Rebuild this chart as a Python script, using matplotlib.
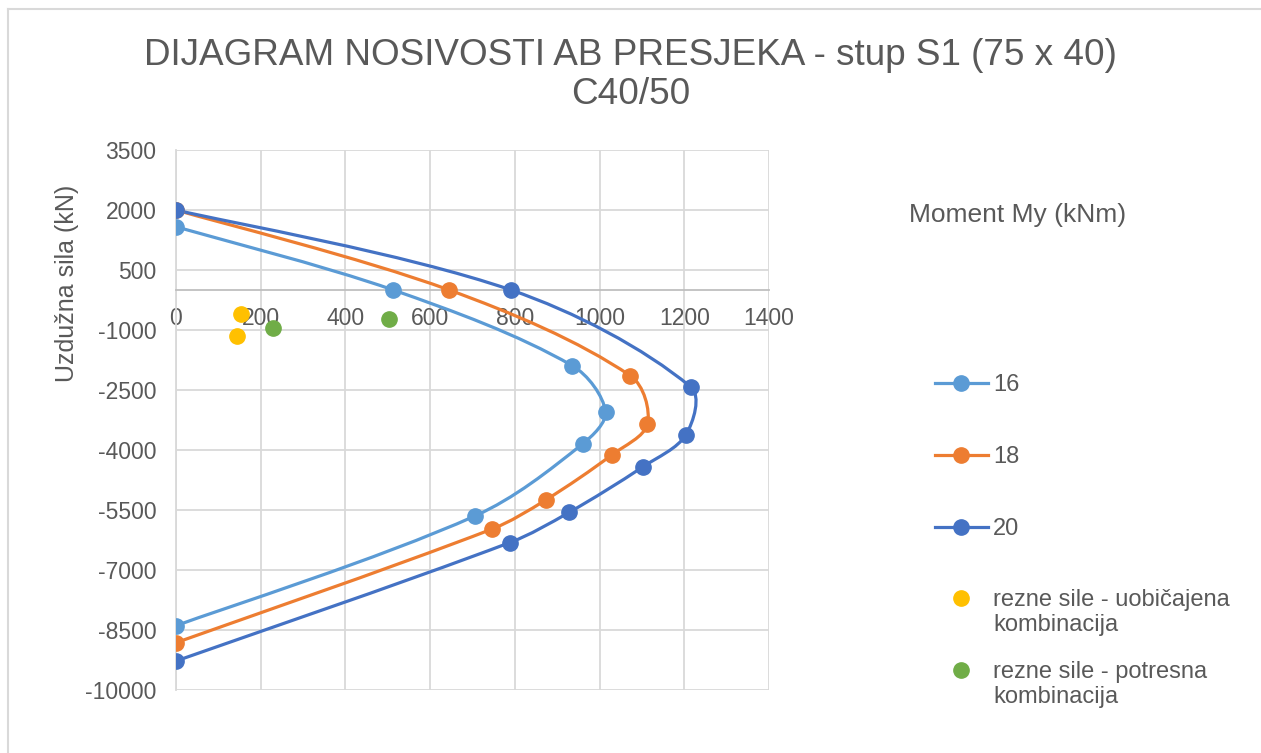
import numpy as np
import matplotlib
matplotlib.use("Agg")
import matplotlib.pyplot as plt
from matplotlib.path import Path
from matplotlib.patches import PathPatch
from matplotlib.lines import Line2D

plt.rcParams['font.family'] = ['Liberation Sans', 'DejaVu Sans']
plt.rcParams['axes.unicode_minus'] = False

# interakcijski dijagrami (M, N) za tri armature
m_16 = [0, 513, 935, 1014, 960, 706, 0]
n_16 = [1580, 0, -1888, -3039, -3847, -5648, -8392]

m_18 = [0, 645, 1073, 1113, 1029, 873, 745, 0]
n_18 = [2000, 0, -2146, -3354, -4122, -5248, -5981, -8817]

m_20 = [0, 791, 1215, 1204, 1102, 928, 788, 0]
n_20 = [2000, 0, -2421, -3614, -4422, -5560, -6315, -9275]

# rezne sile
m_uob = [153, 145]
n_uob = [-603, -1146]
m_pot = [230, 503]
n_pot = [-938, -728]

serije = ['16', '18', '20']
boje = ['#5B9BD5', '#ED7D31', '#4472C4']

TXT = '#595959'
GRID = '#D9D9D9'

W, H = 1261, 753
X0, X1, Y0, Y1 = 176, 769, 150, 690   # rub podrucja crtanja u pikselima


def glatka_krivulja(x, y, sx, sy):
    # glatka linija kroz tocke (Bezier), tangente tezinski po duljini segmenta
    p = np.column_stack([x, y]).astype(float)
    q = p * [sx, sy]                      # za duljine u pikselima
    n = len(p)
    d = np.hypot(*np.diff(q, axis=0).T)
    tang = np.zeros_like(p)
    for i in range(n):
        a = p[max(i - 1, 0)]
        b = p[min(i + 1, n - 1)]
        tang[i] = (b - a) / 2.0
    verts = [p[0]]
    codes = [Path.MOVETO]
    for i in range(n - 1):
        lo = d[i - 1] if i > 0 else d[i]
        hi = d[i + 1] if i + 1 < n - 1 else d[i]
        k1 = 2 * d[i] / (lo + d[i]) if i > 0 else 1.0
        k2 = 2 * d[i] / (d[i] + hi) if i + 1 < n - 1 else 1.0
        c1 = p[i] + tang[i] * k1 / 3.0
        c2 = p[i + 1] - tang[i + 1] * k2 / 3.0
        verts += [c1, c2, p[i + 1]]
        codes += [Path.CURVE4] * 3
    return Path(verts, codes)


fig = plt.figure(figsize=(W / 100, H / 100), dpi=100)
ax = fig.add_axes([X0 / W, 1 - Y1 / H, (X1 - X0) / W, (Y1 - Y0) / H])

ax.set_xlim(0, 1400)
ax.set_ylim(-10000, 3500)
sx = (X1 - X0) / 1400.0
sy = (Y1 - Y0) / 13500.0

for mx, ny, boja in zip([m_16, m_18, m_20], [n_16, n_18, n_20], boje):
    ax.add_patch(PathPatch(glatka_krivulja(mx, ny, sx, sy), fill=False,
                           edgecolor=boja, lw=2.3, capstyle='round', zorder=3))
    ax.plot(mx, ny, 'o', color=boja, ms=11, zorder=4)

ax.plot(m_uob, n_uob, 'o', color='#FFC000', ms=11, zorder=4)
ax.plot(m_pot, n_pot, 'o', color='#70AD47', ms=11, zorder=4)

ax.set_xticks(np.arange(0, 1401, 200))
ax.set_yticks(np.arange(-10000, 3501, 1500))
ax.grid(True, color=GRID, lw=1.3)
ax.set_axisbelow(True)

for s in ['top', 'right']:
    ax.spines[s].set_visible(False)
ax.spines['left'].set_color(GRID)
ax.spines['left'].set_linewidth(1.3)
ax.spines['bottom'].set_position(('data', 0))
ax.spines['bottom'].set_color('#BFBFBF')
ax.spines['bottom'].set_linewidth(1.3)
ax.tick_params(axis='both', length=0, labelsize=16.5, labelcolor=TXT)
ax.tick_params(axis='x', pad=12)
ax.tick_params(axis='y', pad=14)

ax.set_ylabel('Uzdužna sila (kN)', fontsize=18, color=TXT, va='center')
ax.yaxis.set_label_coords((67 - X0) / (X1 - X0), (Y1 - 283) / (Y1 - Y0))

fig.text(0.5, 1 - 75 / H, 'DIJAGRAM NOSIVOSTI AB PRESJEKA - stup S1 (75 x 40)\nC40/50',
         ha='center', va='center', fontsize=26.6, color=TXT, linespacing=1.12)
fig.text(1018 / W, 1 - 215 / H, 'Moment My (kNm)', ha='center', va='center',
         fontsize=19, color=TXT)

# legenda
stavke = [('16', boje[0], True, 383),
          ('18', boje[1], True, 455),
          ('20', boje[2], True, 527),
          ('rezne sile - uobičajena\nkombinacija', '#FFC000', False, 598),
          ('rezne sile - potresna\nkombinacija', '#70AD47', False, 670)]
for tekst, boja, linija, yp in stavke:
    yf = 1 - yp / H
    if linija:
        fig.add_artist(Line2D([935 / W, 988 / W], [yf, yf], color=boja, lw=2.3))
    fig.add_artist(Line2D([961 / W], [yf], ls='', marker='o', color=boja, ms=11))
    fig.text(993 / W, yf + 9 / H, tekst, ha='left', va='top', fontsize=17,
             color=TXT, linespacing=1.15)

# okvir grafikona
fig.add_artist(Line2D([8 / W, 8 / W], [0, 1 - 9 / H], color=GRID, lw=1.5))
fig.add_artist(Line2D([8 / W, 1], [1 - 9 / H, 1 - 9 / H], color=GRID, lw=1.5))

fig.savefig('out.png', dpi=100)
